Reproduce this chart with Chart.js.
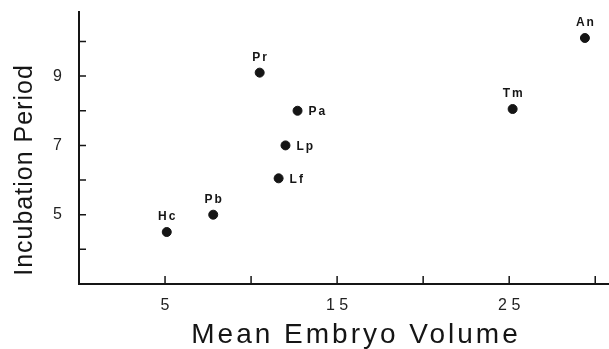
<!DOCTYPE html>
<html>
<head>
<meta charset="utf-8">
<title>Incubation Period vs Mean Embryo Volume</title>
<script src="https://cdn.jsdelivr.net/npm/chart.js@4.4.1/dist/chart.umd.min.js"></script>
<style>
    html, body { margin: 0; padding: 0; background: #fff; }
    #wrap { width: 609px; height: 349px; position: relative; }
</style>
</head>
<body>
<div id="wrap"><canvas id="scatter-chart"></canvas></div>
<script>
// species codes and their values
const species = ['Hc', 'Pb', 'Pr', 'Lf', 'Lp', 'Pa', 'Tm', 'An'];
const embryoVolume = [5.1, 7.8, 10.5, 11.6, 12.0, 12.7, 25.2, 29.4];
const incubationPeriod = [4.5, 5.0, 9.1, 6.05, 7.0, 8.0, 8.05, 10.1];

// these names sit to the right of their dot, the rest above it
const labelledRight = ['Lf', 'Lp', 'Pa'];

const xTickValues = [5, 10, 15, 20, 25, 30];
const xTickLabels = ['5', '', '1 5', '', '2 5', ''];
const yTickValues = [4, 5, 6, 7, 8, 9, 10];
const yTickLabels = ['', '5', '', '7', '', '9', ''];

const xTitle = 'Mean Embryo Volume';
const yTitle = 'Incubation Period';

(function() {
    'use strict';

    const ink = '#151515';

    // short tick marks pointing into the plot, like the printed figure
    const inwardTicks = {
        id: 'inwardTicks',
        afterDraw(chart) {
            const ctx = chart.ctx;
            const x = chart.scales.x;
            const y = chart.scales.y;
            ctx.save();
            ctx.strokeStyle = ink;
            ctx.lineWidth = 1.5;
            ctx.beginPath();
            xTickValues.forEach(v => {
                const px = x.getPixelForValue(v);
                ctx.moveTo(px, x.top);
                ctx.lineTo(px, x.top - 8);
            });
            yTickValues.forEach(v => {
                const py = y.getPixelForValue(v);
                ctx.moveTo(y.right, py);
                ctx.lineTo(y.right + 7, py);
            });
            ctx.stroke();
            ctx.restore();
        }
    };

    // species codes next to each dot
    const pointNames = {
        id: 'pointNames',
        afterDatasetsDraw(chart) {
            const ctx = chart.ctx;
            const meta = chart.getDatasetMeta(0);
            ctx.save();
            ctx.fillStyle = ink;
            ctx.font = 'bold 12px "Liberation Sans", Arial, sans-serif';
            ctx.letterSpacing = '2px';
            meta.data.forEach((pt, i) => {
                const name = species[i];
                if (labelledRight.includes(name)) {
                    ctx.textAlign = 'left';
                    ctx.textBaseline = 'middle';
                    ctx.fillText(name, pt.x + 11, pt.y + 1);
                } else {
                    ctx.textAlign = 'center';
                    ctx.textBaseline = 'alphabetic';
                    ctx.fillText(name, pt.x + 1, pt.y - 12);
                }
            });
            ctx.restore();
        }
    };

    // axis titles, drawn by hand so they can be spaced like the original
    const axisTitles = {
        id: 'axisTitles',
        afterDraw(chart) {
            const ctx = chart.ctx;
            ctx.save();
            ctx.fillStyle = ink;
            ctx.textAlign = 'center';
            ctx.textBaseline = 'alphabetic';

            ctx.font = '28px "Liberation Sans", Arial, sans-serif';
            ctx.letterSpacing = '3px';
            ctx.fillText(xTitle, 356, chart.height - 6);

            ctx.font = '25px "Liberation Sans", Arial, sans-serif';
            ctx.letterSpacing = '1px';
            ctx.translate(32, 170);
            ctx.rotate(-Math.PI / 2);
            ctx.fillText(yTitle, 0, 0);
            ctx.restore();
        }
    };

    const ctx = document.getElementById('scatter-chart');

    new Chart(ctx, {
        type: 'scatter',
        data: {
            datasets: [{
                label: 'species',
                data: embryoVolume.map((v, i) => ({ x: v, y: incubationPeriod[i] })),
                backgroundColor: ink,
                borderColor: ink,
                pointRadius: 4.5,
                pointHoverRadius: 4.5,
            }]
        },
        options: {
            responsive: true,
            maintainAspectRatio: false,
            animation: false,
            layout: {
                autoPadding: false,
                padding: { top: 12, right: 0, left: 0, bottom: 0 }
            },
            plugins: {
                legend: { display: false },
                tooltip: { enabled: false }
            },
            scales: {
                x: {
                    type: 'linear',
                    min: 0,
                    max: 30.8,
                    afterBuildTicks: scale => {
                        scale.ticks = xTickValues.map(v => ({ value: v }));
                    },
                    afterFit: scale => {
                        scale.height = 65;
                        scale.paddingLeft = 0;
                        scale.paddingRight = 0;
                    },
                    grid: { display: false },
                    border: { display: true, color: ink, width: 2 },
                    ticks: {
                        autoSkip: false,
                        maxRotation: 0,
                        padding: 4,
                        color: '#222',
                        font: { family: '"Liberation Sans", Arial, sans-serif', size: 16 },
                        callback: (value, index) => xTickLabels[index]
                    }
                },
                y: {
                    type: 'linear',
                    min: 3,
                    max: 10.85,
                    afterBuildTicks: scale => {
                        scale.ticks = yTickValues.map(v => ({ value: v }));
                    },
                    afterFit: scale => {
                        scale.width = 79;
                        scale.paddingTop = 0;
                        scale.paddingBottom = 0;
                    },
                    grid: { display: false },
                    border: { display: true, color: ink, width: 2 },
                    ticks: {
                        autoSkip: false,
                        padding: 9,
                        color: '#222',
                        font: { family: '"Liberation Sans", Arial, sans-serif', size: 16 },
                        callback: (value, index) => yTickLabels[index]
                    }
                }
            }
        },
        plugins: [inwardTicks, pointNames, axisTitles]
    });
})();
</script>
</body>
</html>
